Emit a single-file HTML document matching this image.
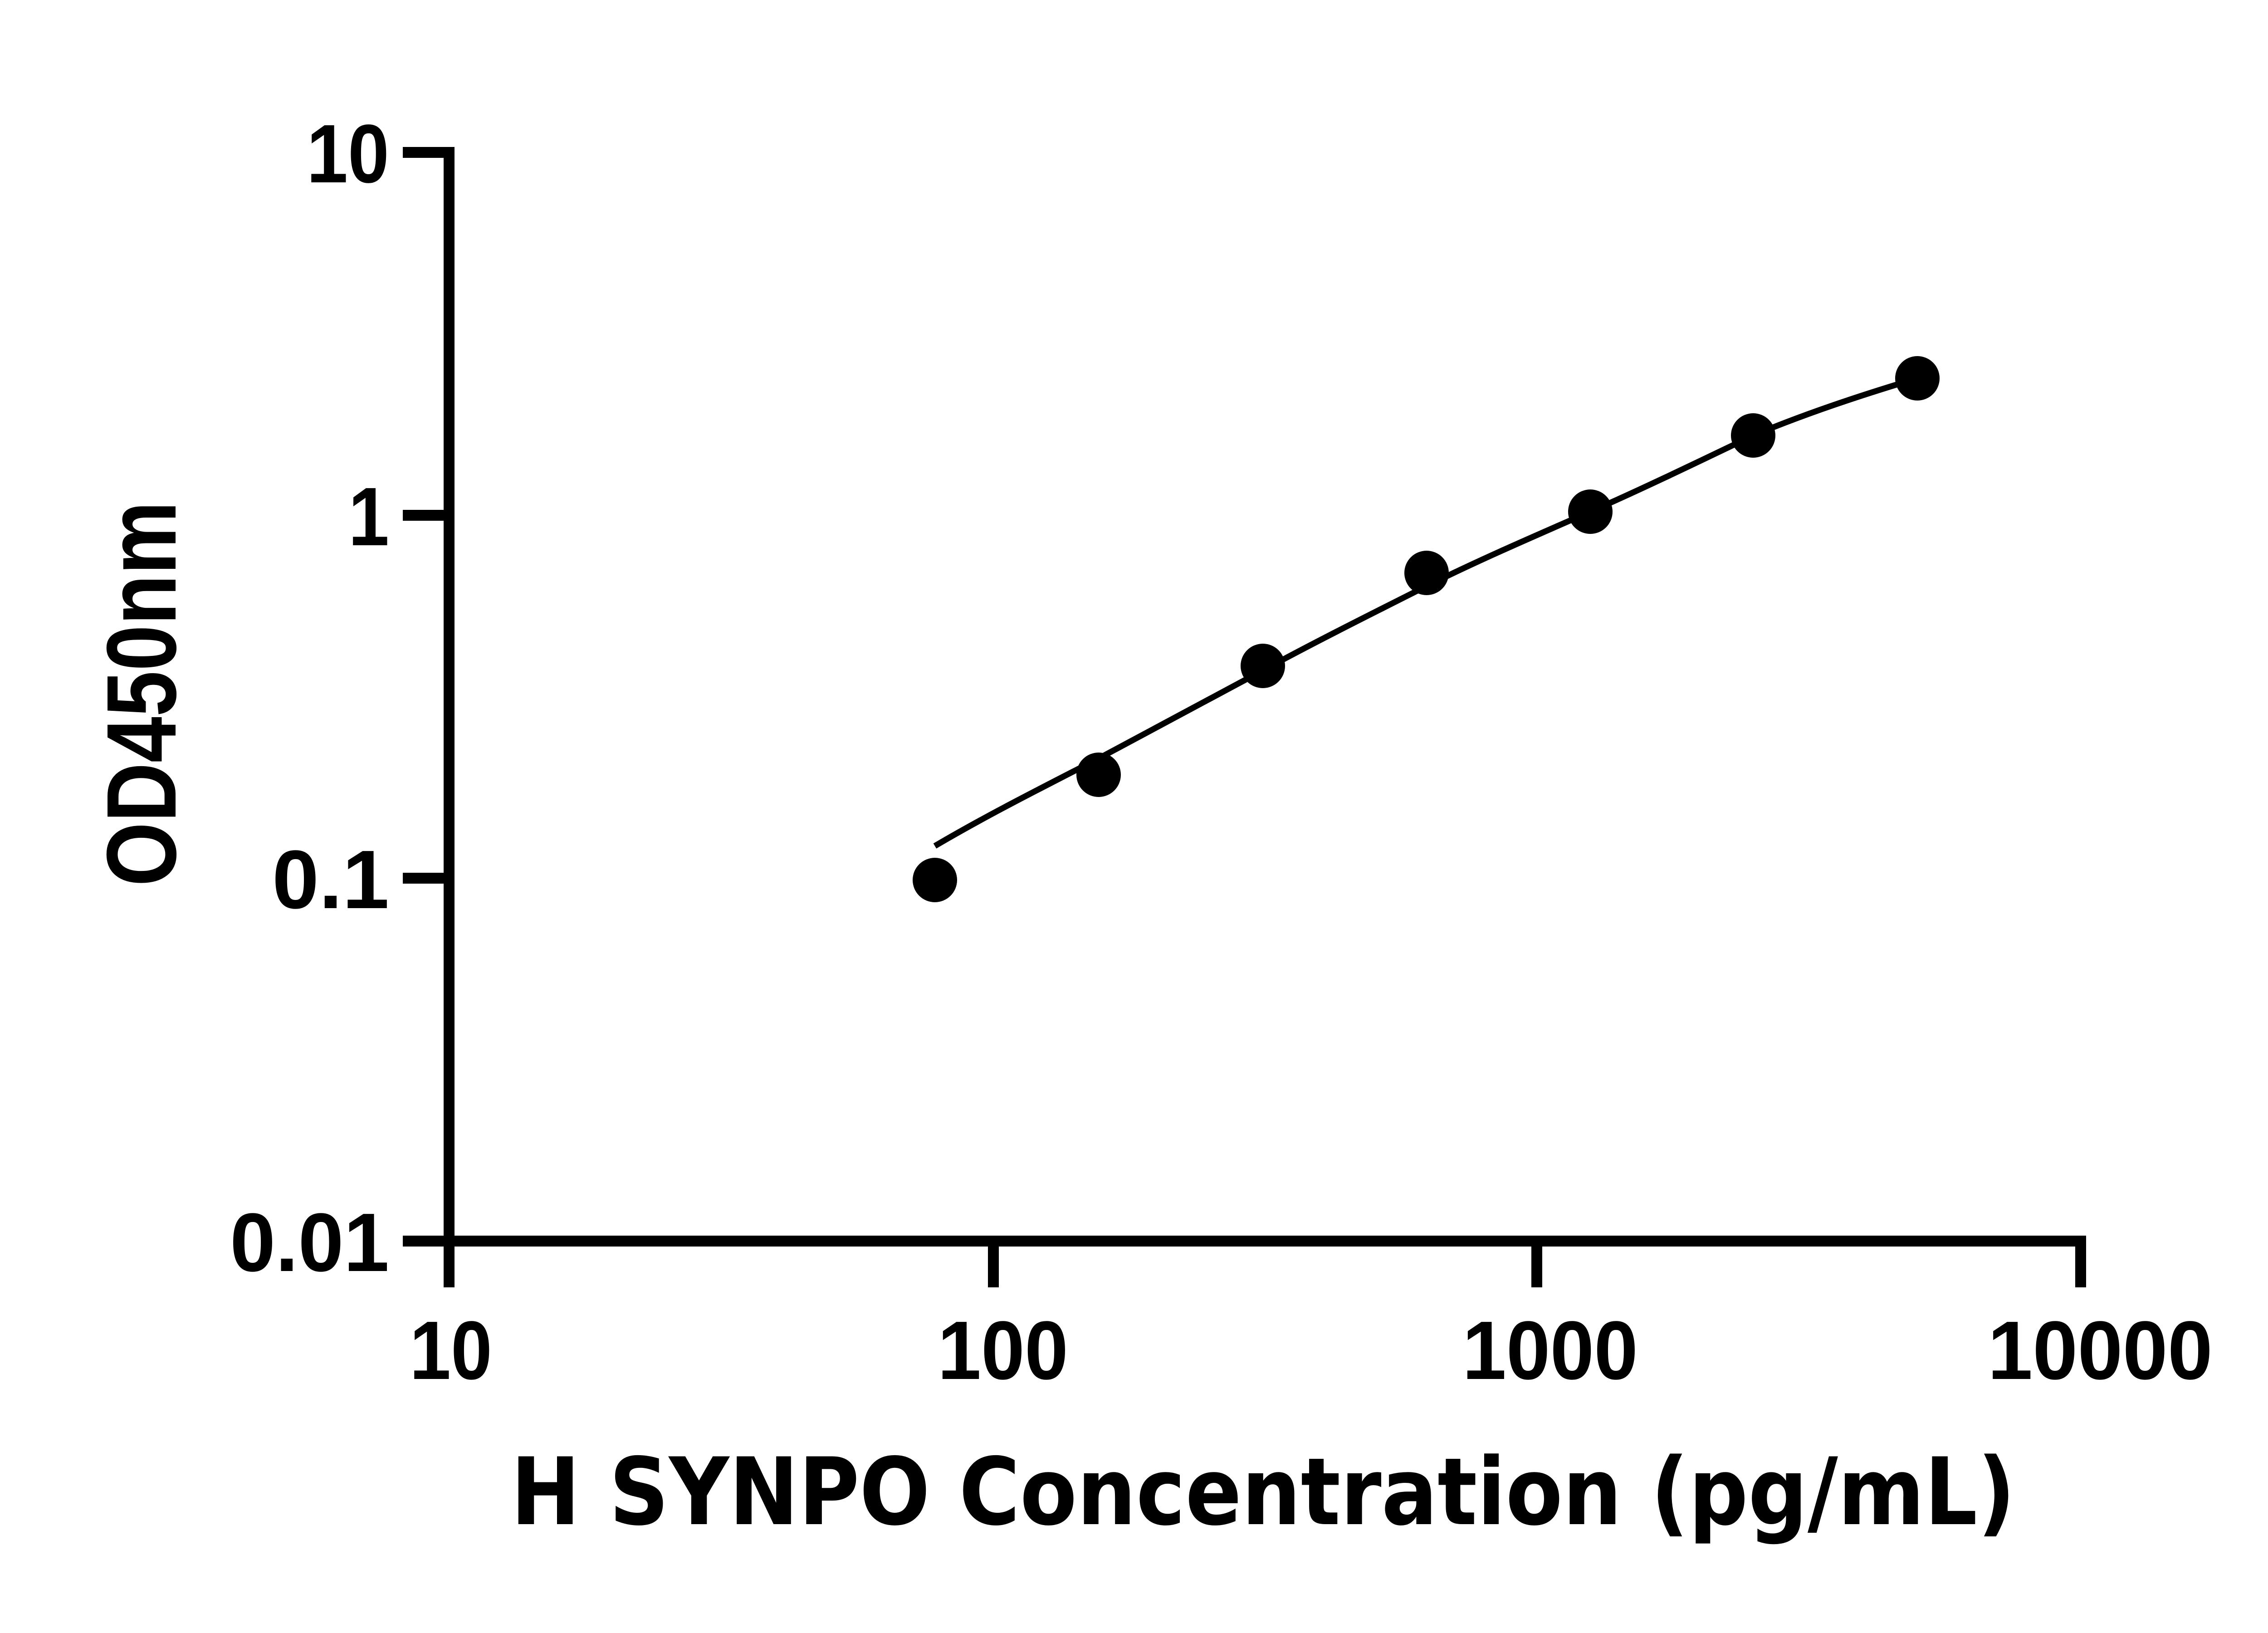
<!DOCTYPE html>
<html><head><meta charset="utf-8"><style>html,body{margin:0;padding:0;background:#fff}svg{display:block}</style></head>
<body>
<svg width="5142" height="3600" viewBox="0 0 5142 3600" xmlns="http://www.w3.org/2000/svg">
<rect width="5142" height="3600" fill="#fff"/>
<g stroke="#000" stroke-width="24" fill="none">
<line x1="990" y1="324" x2="990" y2="2748"/>
<line x1="978" y1="2736" x2="4587" y2="2736"/>
<line x1="888" y1="336" x2="990" y2="336"/>
<line x1="888" y1="1136" x2="990" y2="1136"/>
<line x1="888" y1="1936" x2="990" y2="1936"/>
<line x1="888" y1="2736" x2="990" y2="2736"/>
<line x1="990" y1="2736" x2="990" y2="2838"/>
<line x1="2190" y1="2736" x2="2190" y2="2838"/>
<line x1="3388" y1="2736" x2="3388" y2="2838"/>
<line x1="4587" y1="2724" x2="4587" y2="2838"/>
</g>
<path d="M2061,1865 C2180,1795 2300,1735 2422,1672 C2540,1608 2660,1545 2784,1478 C2900,1415 3020,1355 3145,1292 C3260,1235 3380,1183 3506,1128 C3620,1078 3740,1020 3865,960 C3980,912 4100,872 4227,834" stroke="#000" stroke-width="13" fill="none"/>
<g fill="#000">
<circle cx="2061" cy="1940" r="49"/>
<circle cx="2422" cy="1708" r="49"/>
<circle cx="2784" cy="1468" r="49"/>
<circle cx="3145" cy="1263" r="49"/>
<circle cx="3506" cy="1128" r="49"/>
<circle cx="3865" cy="960" r="49"/>
<circle cx="4227" cy="834" r="49"/>
</g>
<g style="font-family:'Liberation Sans',Arial,sans-serif;font-weight:bold" font-size="183" fill="#000">
<text x="858" y="402" text-anchor="end" textLength="182" lengthAdjust="spacingAndGlyphs">10</text>
<text x="858" y="1202" text-anchor="end" textLength="90" lengthAdjust="spacingAndGlyphs">1</text>
<text x="858" y="2002" text-anchor="end" textLength="258" lengthAdjust="spacingAndGlyphs">0.1</text>
<text x="858" y="2802" text-anchor="end" textLength="351" lengthAdjust="spacingAndGlyphs">0.01</text>
<text x="903" y="3040" textLength="182" lengthAdjust="spacingAndGlyphs">10</text>
<text x="2067" y="3040" textLength="288" lengthAdjust="spacingAndGlyphs">100</text>
<text x="3224" y="3040" textLength="387" lengthAdjust="spacingAndGlyphs">1000</text>
<text x="4382" y="3040" textLength="496" lengthAdjust="spacingAndGlyphs">10000</text>
</g>
<text x="1126" y="3360" style="font-family:'DejaVu Sans','Liberation Sans',sans-serif;font-weight:bold" font-size="205" textLength="3317" lengthAdjust="spacingAndGlyphs">H SYNPO Concentration (pg/mL)</text>
<text transform="translate(387,1954) rotate(-90)" x="0" y="0" style="font-family:'Liberation Sans',Arial,sans-serif;font-weight:bold" font-size="218" textLength="849" lengthAdjust="spacingAndGlyphs">OD450nm</text>
</svg>
</body></html>
